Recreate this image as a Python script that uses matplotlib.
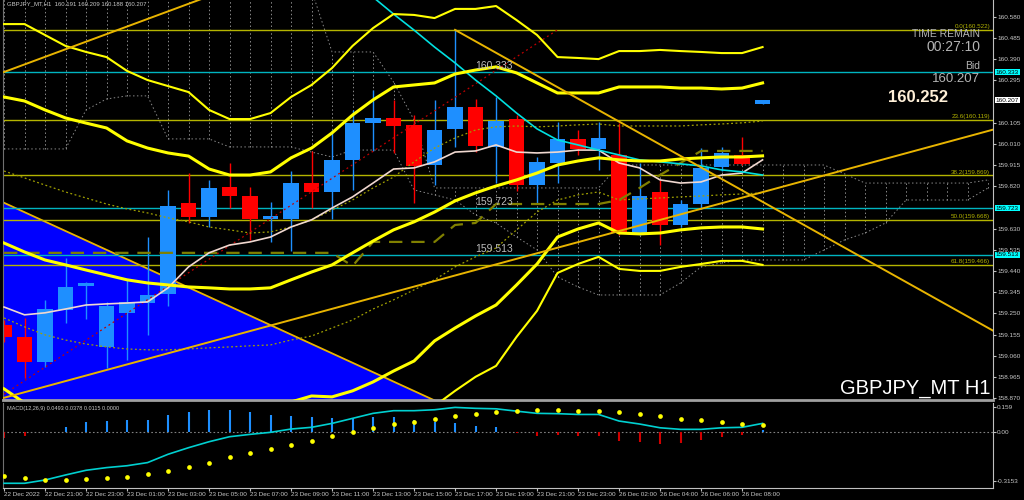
import numpy as np
import matplotlib
matplotlib.use('Agg')
from matplotlib import pyplot as plt
from matplotlib.transforms import blended_transform_factory

plt.rcParams['font.family'] = ['Liberation Sans', 'DejaVu Sans']
nan = np.nan

# --- GBPJPY H1 candles (bar 0 = 22 Dec 19:00, bar 37 = current bar) ---
o = [159.199,159.145,159.033,159.267,159.374,159.100,159.253,159.297,159.338,159.746,159.683,159.818,159.777,159.674,159.674,159.836,159.795,159.939,160.105,160.127,
     160.096,159.916,160.078,160.176,159.997,160.123,159.827,159.925,160.033,159.988,159.961,159.612,159.795,159.647,159.741,159.907,159.961,160.191]
h = [159.220,159.230,159.311,159.499,159.390,159.300,159.400,159.594,159.804,159.880,159.849,159.925,159.818,159.750,159.889,159.980,160.073,160.163,160.253,160.208,
     160.141,160.208,160.522,160.212,160.220,160.141,159.952,160.109,160.073,160.109,160.105,159.925,159.849,159.760,159.993,159.997,160.042,160.209]
l = [159.120,158.961,159.010,159.208,159.226,159.006,159.040,159.154,159.284,159.656,159.638,159.724,159.580,159.571,159.531,159.724,159.674,159.804,159.980,159.970,
     159.746,159.827,159.997,159.975,159.836,159.800,159.746,159.836,159.960,159.894,159.600,159.600,159.558,159.640,159.720,159.890,159.916,160.188]
c = [159.145,159.033,159.271,159.369,159.387,159.284,159.302,159.333,159.732,159.683,159.813,159.777,159.674,159.688,159.836,159.795,159.939,160.105,160.127,160.091,
     159.912,160.073,160.176,160.002,160.114,159.827,159.930,160.033,159.988,160.037,159.612,159.777,159.647,159.741,159.903,159.970,159.921,160.207]

# --- indicators on price ---
bb3u = [160.548,160.548,160.499,160.450,160.423,160.400,160.338,160.297,160.270,160.243,160.163,160.122,160.122,160.149,160.221,160.275,160.351,160.450,160.530,160.593,
        160.589,160.575,160.616,160.616,160.629,160.566,160.499,160.400,160.396,160.391,160.427,160.427,160.432,160.427,160.423,160.418,160.418,160.445]
bb2u = [160.221,160.203,160.163,160.127,160.104,160.082,160.024,159.992,159.970,159.956,159.898,159.871,159.871,159.885,159.948,159.992,160.060,160.140,160.208,160.266,
        160.275,160.284,160.324,160.342,160.356,160.329,160.284,160.239,160.239,160.239,160.266,160.266,160.266,160.261,160.261,160.257,160.261,160.284]
bbmid = [159.566,159.526,159.490,159.468,159.445,159.423,159.401,159.387,159.378,159.369,159.365,159.360,159.360,159.365,159.401,159.436,159.468,159.522,159.575,159.625,
         159.661,159.705,159.755,159.791,159.822,159.849,159.880,159.916,159.934,159.948,159.939,159.934,159.934,159.943,159.948,159.952,159.952,159.957]
bb2l = [158.912,158.849,158.818,158.809,158.786,158.764,158.777,158.782,158.786,158.782,158.831,158.849,158.849,158.845,158.853,158.880,158.876,158.903,158.943,158.992,
        159.037,159.127,159.185,159.239,159.288,159.378,159.472,159.593,159.629,159.656,159.611,159.607,159.611,159.625,159.634,159.638,159.638,159.629]
bb3l = [nan,nan,nan,nan,nan,nan,nan,nan,nan,nan,nan,nan,nan,nan,nan,nan,nan,nan,nan,nan,
        158.732,158.835,158.903,158.966,159.015,159.145,159.262,159.432,159.472,159.504,159.450,159.441,159.441,159.459,159.472,159.486,159.486,159.468]
ma_white = [159.279,159.244,159.253,159.270,159.288,159.293,159.297,159.302,159.365,159.459,159.522,159.557,159.571,159.593,159.638,159.670,159.723,159.773,159.835,159.898,
            159.903,159.930,159.974,159.979,160.006,159.974,159.970,159.974,159.983,159.983,159.925,159.903,159.849,159.835,159.840,159.871,159.880,159.939]
ma_cyan = [nan,nan,nan,nan,nan,nan,nan,nan,nan,nan,nan,nan,nan,nan,nan,nan,nan,160.746,160.669,160.593,
           160.521,160.445,160.374,160.297,160.226,160.149,160.078,160.028,160.006,159.983,159.961,159.939,159.930,159.921,159.912,159.894,159.885,159.871]
env_up = [159.889,159.858,159.826,159.795,159.768,159.741,159.719,159.701,159.679,159.661,159.638,159.625,159.611,159.616,159.638,159.670,159.714,159.759,159.813,159.862,
          159.930,159.992,160.037,160.073,160.087,160.091,160.087,160.091,160.096,160.100,160.091,160.091,160.091,160.091,160.096,160.100,160.105,160.113]
env_dn = [159.230,159.190,159.154,159.131,159.113,159.100,159.091,159.087,159.087,159.091,159.096,159.100,159.105,159.109,159.131,159.149,159.185,159.221,159.270,159.311,
          159.356,159.401,159.459,159.504,159.544,159.625,159.705,159.759,159.782,159.795,159.759,159.764,159.768,159.773,159.777,159.782,159.786,159.791]
kijun = [159.522,159.522,159.522,159.522,159.522,159.522,159.522,159.522,159.522,159.522,159.522,159.522,159.522,159.522,159.522,159.522,159.522,159.463,159.571,159.571,
         159.571,159.571,159.647,159.656,159.741,159.741,159.741,159.741,159.741,159.741,159.759,159.813,159.871,159.925,159.979,159.979,159.979,159.979]
# ichimoku cloud, runs 11 bars past the last candle
span_a = [160.70,160.70,160.70,160.70,160.70,160.70,160.70,160.70,160.70,160.70,160.70,160.70,160.70,160.70,160.70,160.70,160.423,160.423,160.423,160.288,
          160.118,159.813,159.813,159.813,159.813,159.813,159.813,159.813,159.813,159.813,159.916,159.916,159.916,159.916,159.916,159.916,159.916,159.916,159.916,159.916,
          159.916,159.876,159.835,159.835,159.835,159.835,159.835,159.835,159.849]
span_b = [159.988,159.988,159.988,159.988,160.163,160.212,160.226,160.226,160.033,160.033,160.033,159.997,159.997,159.997,159.997,159.974,159.952,159.983,159.983,159.983,
          159.804,159.782,159.759,159.692,159.656,159.593,159.535,159.414,159.369,159.333,159.333,159.333,159.333,159.387,159.459,159.477,159.490,159.490,159.490,159.490,
          159.535,159.580,159.611,159.656,159.759,159.759,159.759,159.759,159.813]

# drawn objects: (bar, price) anchors
fib_levels = [160.522, 160.119, 159.869, 159.668, 159.466]
fib_names = ['0.0', '23.6', '38.2', '50.0', '61.8']
hlines_cyan = [160.333, 159.723, 159.513]
trend_up1 = ([-0.2, 48.3], [158.867, 160.076])
trend_up2 = ([0.0, 12.0], [160.333, 160.741])
trend_dn = ([22.0, 48.3], [160.522, 159.170])
tri_edge = ([-0.2, 22.0], [159.755, 158.818])
red_ray = ([-0.2, 26.98], [158.876, 160.521])

# --- MACD(12,26,9) ---
hist = [-0.038,-0.028,0.0,0.032,0.059,0.070,0.074,0.074,0.106,0.123,0.136,0.138,0.123,0.106,0.102,0.091,0.085,0.089,0.091,0.091,
        0.074,0.059,0.057,0.036,0.028,-0.006,-0.025,-0.021,-0.028,-0.025,-0.059,-0.064,-0.076,-0.070,-0.055,-0.036,-0.021,0.0115]
macd = [-0.329,-0.329,-0.308,-0.276,-0.246,-0.229,-0.217,-0.197,-0.144,-0.102,-0.064,-0.032,-0.017,-0.004,0.017,0.028,0.053,0.085,0.117,0.134,
        0.134,0.140,0.155,0.149,0.146,0.131,0.117,0.115,0.110,0.110,0.068,0.049,0.025,0.015,0.015,0.025,0.028,0.053]
signal = [-0.282,-0.293,-0.308,-0.308,-0.304,-0.297,-0.287,-0.270,-0.251,-0.227,-0.197,-0.163,-0.138,-0.113,-0.085,-0.057,-0.028,-0.004,0.021,0.047,
          0.064,0.083,0.100,0.113,0.127,0.134,0.136,0.138,0.134,0.134,0.125,0.113,0.100,0.083,0.072,0.059,0.051,0.042]

# 160.200 and 159.725 sit under the price boxes, so they are left out
price_ticks = [160.580,160.485,160.390,160.295,160.105,160.010,159.915,159.820,159.630,159.535,159.440,159.345,159.250,159.155,159.060,158.965,158.870]
time_labels = ['22 Dec 2022','22 Dec 21:00','22 Dec 23:00','23 Dec 01:00','23 Dec 03:00','23 Dec 05:00','23 Dec 07:00','23 Dec 09:00','23 Dec 11:00',
               '23 Dec 13:00','23 Dec 15:00','23 Dec 17:00','23 Dec 19:00','23 Dec 21:00','23 Dec 23:00','26 Dec 02:00','26 Dec 04:00','26 Dec 06:00','26 Dec 08:00']

BULL, BEAR = '#1e8fff', '#ff0000'
GOLD, YEL, FIB, CYN = '#e8b400', '#ffff00', '#b4b400', '#00b4c0'
TXT = '#c8c8c8'
SMALL = 4.6

fig = plt.figure(figsize=(10.24, 5.0), dpi=100, facecolor='black')
ax = fig.add_axes([3/1024, 0.2, 990/1024, 0.8], facecolor='black')
am = fig.add_axes([3/1024, 12/500, 990/1024, 85/500], facecolor='black')
xlim = (-0.05, 48.24)

# blue triangle in the background
ax.fill([tri_edge[0][0], tri_edge[0][1], tri_edge[0][0]], [tri_edge[1][0], tri_edge[1][1], 158.70], color='#0000ff', zorder=0.5, lw=0)
ax.plot(*tri_edge, color=GOLD, lw=1.3, zorder=1)

# ichimoku cloud hatch
xc = np.arange(len(span_a))
ax.vlines(xc, span_b, span_a, colors='#8a8a8a', lw=0.7, linestyles=(0, (1.5, 2.5)), zorder=1)
ax.plot(xc, span_a, color='#8a8a8a', lw=0.7, ls=(0, (1.5, 2.5)), zorder=1)
ax.plot(xc, span_b, color='#8a8a8a', lw=0.7, ls=(0, (1.5, 2.5)), zorder=1)

for lev, nm in zip(fib_levels, fib_names):
    ax.axhline(lev, color=FIB, lw=1.0, zorder=1.2)
    ax.text(48.1, lev + 0.004, f'{nm}({lev:.3f})', ha='right', va='bottom', fontsize=4.5, color=FIB, zorder=5)
for lev in hlines_cyan:
    ax.axhline(lev, color=CYN, lw=1.0, zorder=1.2)
    ax.text(23.0, lev + 0.004, f'{lev:.3f}', ha='left', va='bottom', fontsize=7.5, color='#bcbcbc', zorder=5)

# candles
x = np.arange(len(o))
for i in x:
    col = BULL if c[i] >= o[i] else BEAR
    ax.vlines(i, l[i], h[i], color=col, lw=1.0, zorder=2)
    ax.bar(i, max(abs(c[i] - o[i]), 0.008), bottom=min(o[i], c[i]), width=0.75, color=col, zorder=2.1)

ax.plot(x, env_up, color='#a0a000', lw=0.9, ls=(0, (1.5, 2)), zorder=3)
ax.plot(x, env_dn, color='#a0a000', lw=0.9, ls=(0, (1.5, 2)), zorder=3)
ax.plot(x, kijun, color='#808000', lw=1.6, ls=(0, (6, 4)), zorder=3)
ax.plot(*red_ray, color='#c00000', lw=0.9, ls=(0, (1.5, 2.5)), zorder=3)
ax.plot(x, ma_white, color='#f0d8d0', lw=1.2, zorder=3.2)
ax.plot(x, ma_cyan, color='#00e0e0', lw=1.2, zorder=3.2)
for s, w in [(bb3u, 1.5), (bb3l, 1.5), (bb2u, 2.2), (bb2l, 2.2), (bbmid, 2.2)]:
    ax.plot(x, s, color=YEL, lw=w, zorder=3.3)
for t in (trend_up1, trend_up2, trend_dn):
    ax.plot(*t, color=GOLD, lw=1.4, zorder=3.4)

ax.set_xlim(*xlim)
ax.set_ylim(158.862, 160.656)
ax.set_xticks([])
ax.yaxis.tick_right()
ax.set_yticks(price_ticks)
ax.set_yticklabels([f'{v:.3f}' for v in price_ticks])
ax.tick_params(axis='y', colors='#c0c0c0', labelcolor=TXT, labelsize=SMALL, length=2, pad=1)
ax.spines['top'].set_visible(False)
ax.spines['right'].set_color('#c0c0c0')
ax.spines['left'].set_color('#707070')
ax.spines['bottom'].set_color('#a0a0a0')
ax.spines['bottom'].set_linewidth(2)

tr = blended_transform_factory(ax.transAxes, ax.transData)
for lev in hlines_cyan:
    ax.text(1.003, lev, f'{lev:.3f}', transform=tr, ha='left', va='center', fontsize=SMALL, color='black',
            bbox=dict(fc='#00ffff', ec='none', pad=0.6), zorder=6, clip_on=False)
ax.text(1.003, c[-1], f'{c[-1]:.3f}', transform=tr, ha='left', va='center', fontsize=SMALL, color='black',
        bbox=dict(fc='white', ec='none', pad=0.6), zorder=6, clip_on=False)

ax.text(0.004, 0.997, 'GBPJPY_MT,H1  160.191 160.209 160.188 160.207', transform=ax.transAxes, ha='left', va='top',
        fontsize=4.3, color=TXT)
ax.text(0.987, 0.915, 'TIME REMAIN', transform=ax.transAxes, ha='right', va='center', fontsize=7.5, color='#b4b4b4')
ax.text(0.987, 0.882, '00:27:10', transform=ax.transAxes, ha='right', va='center', fontsize=10, color='#b4b4b4')
ax.text(0.987, 0.835, 'Bid', transform=ax.transAxes, ha='right', va='center', fontsize=7.5, color='#b4b4b4')
ax.text(0.987, 0.802, '160.207', transform=ax.transAxes, ha='right', va='center', fontsize=9.5, color='#b4b4b4')
ax.text(0.955, 0.755, '160.252', transform=ax.transAxes, ha='right', va='center', fontsize=12, fontweight='bold', color='#fff0d8')
ax.text(0.997, 0.005, 'GBPJPY_MT H1', transform=ax.transAxes, ha='right', va='bottom', fontsize=14.5, color='white')

# MACD panel
hx = np.arange(len(hist))
am.vlines(hx, 0, hist, colors=[BULL if v >= 0 else '#d00000' for v in hist], lw=1.5, zorder=2)
am.axhline(0, color='#808080', lw=0.8, ls=(0, (1.5, 2)), zorder=1)
am.plot(hx, macd, color='#00d0d0', lw=1.2, zorder=3)
am.plot(hx, signal, 'o', color='#ffff00', ms=3.4, mec='none', zorder=4)
am.set_xlim(*xlim)
am.set_ylim(-0.359, 0.183)
am.yaxis.tick_right()
am.set_yticks([0.159, 0.0, -0.3153])
am.set_yticklabels(['0.159', '0.00', '-0.3153'])
am.set_xticks(np.arange(0, 37, 2))
am.set_xticklabels(time_labels, ha='left')
am.tick_params(axis='both', colors='#c0c0c0', labelcolor=TXT, labelsize=SMALL, length=2, pad=1)
am.spines['top'].set_visible(False)
am.spines['right'].set_color('#c0c0c0')
am.spines['left'].set_color('#707070')
am.spines['bottom'].set_color('#c0c0c0')
am.text(0.004, 0.97, 'MACD(12,26,9) 0.0493 0.0378 0.0115 0.0000', transform=am.transAxes, ha='left', va='top',
        fontsize=4.0, color=TXT)

fig.savefig('out.png', dpi=100, facecolor='black')
